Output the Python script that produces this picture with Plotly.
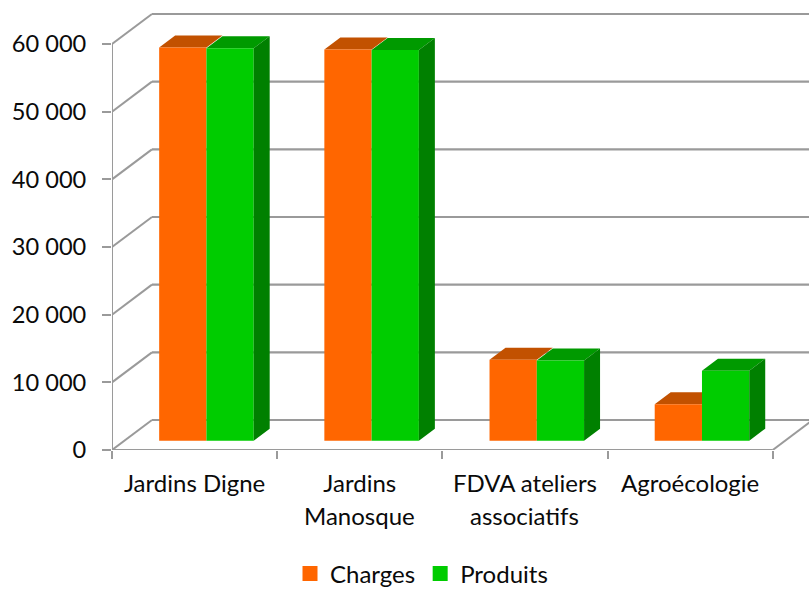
import plotly.graph_objects as go

# --- data ---
categories_line1 = ["Jardins Digne", "Jardins", "FDVA ateliers", "Agroécologie"]
categories_line2 = ["", "Manosque", "associatifs", ""]
charges = [58100, 57800, 11950, 5400]
produits = [58000, 57750, 11850, 10350]
y_ticks = [0, 10000, 20000, 30000, 40000, 50000, 60000]
y_tick_labels = ["0", "10 000", "20 000", "30 000", "40 000", "50 000", "60 000"]
series_names = ["Charges", "Produits"]

# --- 3D projection, in pixels, converted to data units ---
W, H = 809, 590
PX_X = 165.3            # pixels per category
PX_Y = 406 / 60000      # pixels per value unit
LEFT, BOTTOM, TOP = 111.5, 140, 10
def dx(px): return px / PX_X
def dy(px): return px / PX_Y

WALL_DX, WALL_DY = dx(40), dy(30)
BAR_DX, BAR_DY = dx(11.85), dy(9.3)
SIDE_DX, SIDE_DY = dx(16), dy(12)
BAR_W = dx(47.3)
n = len(categories_line1)

GREY = "#9A9A9A"
ORANGE, ORANGE_TOP = "#FF6600", "#C25100"
GREEN, GREEN_TOP, GREEN_SIDE = "#00CC00", "#009A00", "#008000"

def polys(list_of_polys):
    xs, ys = [], []
    for p in list_of_polys:
        xs += [q[0] for q in p] + [p[0][0], None]
        ys += [q[1] for q in p] + [p[0][1], None]
    return xs, ys

def top_faces(values, lefts):
    return polys([[(x, v + BAR_DY), (x + BAR_W, v + BAR_DY),
                   (x + BAR_W + SIDE_DX, v + BAR_DY + SIDE_DY),
                   (x + SIDE_DX, v + BAR_DY + SIDE_DY)] for x, v in zip(lefts, values)])

def side_faces(values, lefts):
    return polys([[(x + BAR_W, BAR_DY), (x + BAR_W, v + BAR_DY),
                   (x + BAR_W + SIDE_DX, v + BAR_DY + SIDE_DY),
                   (x + BAR_W + SIDE_DX, BAR_DY + SIDE_DY)] for x, v in zip(lefts, values)])

def face(xy, color, z):
    return go.Scatter(x=xy[0], y=xy[1], mode="lines", fill="toself", fillcolor=color,
                      line=dict(width=0, color=color), showlegend=False,
                      hoverinfo="skip", zorder=z, cliponaxis=False)

fig = go.Figure()

# back wall gridlines and left wall diagonals
gx, gy = [], []
for t in y_ticks:
    gx += [WALL_DX, n + WALL_DX, None]
    gy += [t + WALL_DY, t + WALL_DY, None]
fig.add_trace(go.Scatter(x=gx, y=gy, mode="lines", line=dict(color=GREY, width=2.2),
                         showlegend=False, hoverinfo="skip", zorder=0, cliponaxis=True))
lx, ly = [], []
for t in y_ticks:
    lx += [0, WALL_DX, None]
    ly += [t, t + WALL_DY, None]
lx += [n, n + WALL_DX, None]
ly += [0, WALL_DY, None]
# axis lines (stop at the axis ends)
lx += [0, 0, None, 0, n, None]
ly += [y_ticks[0], y_ticks[-1], None, 0, 0, None]
fig.add_trace(go.Scatter(x=lx, y=ly, mode="lines", line=dict(color=GREY, width=2),
                         showlegend=False, hoverinfo="skip", zorder=0, cliponaxis=False))

centers = [i + 0.5 + BAR_DX for i in range(n)]
left_c = [c - BAR_W for c in centers]
left_p = list(centers)

fig.add_trace(face(top_faces(produits, left_p), GREEN_TOP, 1))
fig.add_trace(face(top_faces(charges, left_c), ORANGE_TOP, 2))
fig.add_trace(go.Bar(x=[x + BAR_W / 2 for x in left_c], y=charges, base=BAR_DY, width=BAR_W,
                     marker=dict(color=ORANGE, line=dict(width=0)), name=series_names[0],
                     zorder=3, showlegend=False))
fig.add_trace(face(side_faces(produits, left_p), GREEN_SIDE, 4))
fig.add_trace(go.Bar(x=[x + BAR_W / 2 for x in left_p], y=produits, base=BAR_DY, width=BAR_W,
                     marker=dict(color=GREEN, line=dict(width=0)), name=series_names[1],
                     zorder=4, showlegend=False))
# legend keys
for name, color in zip(series_names, [ORANGE, GREEN]):
    fig.add_trace(go.Scatter(x=[None], y=[None], mode="markers", name=name,
                             marker=dict(symbol="square", size=15, color=color, line=dict(width=0))))

FONT = "Lato"
SIZE = 24
TXT = "#0A0A0A"
plot_w = W - LEFT
plot_h = H - BOTTOM - TOP

annotations = []
for i, t in enumerate(categories_line2):
    if t:
        annotations.append(dict(x=i + 0.5, xref="x", y=-65 / plot_h, yref="y domain",
                                text=t, showarrow=False, xanchor="center", yanchor="middle",
                                font=dict(family=FONT, size=SIZE, color=TXT)))

fig.update_layout(
    width=W, height=H,
    margin=dict(l=LEFT, r=0, t=TOP, b=BOTTOM, pad=0),
    autosize=False,
    paper_bgcolor="white", plot_bgcolor="white",
    barmode="overlay",
    annotations=annotations,
    showlegend=True,
    legend=dict(orientation="h", xref="container", yref="container",
                x=421.5 / W, xanchor="center", y=1 - 574 / H, yanchor="middle",
                font=dict(family=FONT, size=SIZE, color=TXT), itemwidth=30,
                traceorder="normal", bgcolor="rgba(0,0,0,0)"),
    xaxis=dict(range=[0, plot_w / PX_X], showgrid=False, zeroline=False, showline=False,
               tickmode="array", tickvals=[i + 0.5 for i in range(n)], ticktext=categories_line1,
               ticks="", tickangle=0, ticklabelstandoff=17,
               tickfont=dict(family=FONT, size=SIZE, color=TXT),
               minor=dict(tickmode="array", tickvals=list(range(n + 1)), ticks="outside",
                          ticklen=8, tickwidth=1.5, tickcolor=GREY, showgrid=False)),
    yaxis=dict(range=[0, plot_h / PX_Y], showgrid=False, zeroline=False, showline=False,
               tickmode="array", tickvals=y_ticks, ticktext=y_tick_labels,
               ticks="outside", ticklen=9, tickwidth=1.5, tickcolor=GREY,
               ticklabelstandoff=11,
               tickfont=dict(family=FONT, size=23.6, color=TXT)),
)
fig.write_html("out.html", config=dict(displayModeBar=False),
               post_script="document.body.style.margin='0';document.documentElement.style.overflow='hidden';")
